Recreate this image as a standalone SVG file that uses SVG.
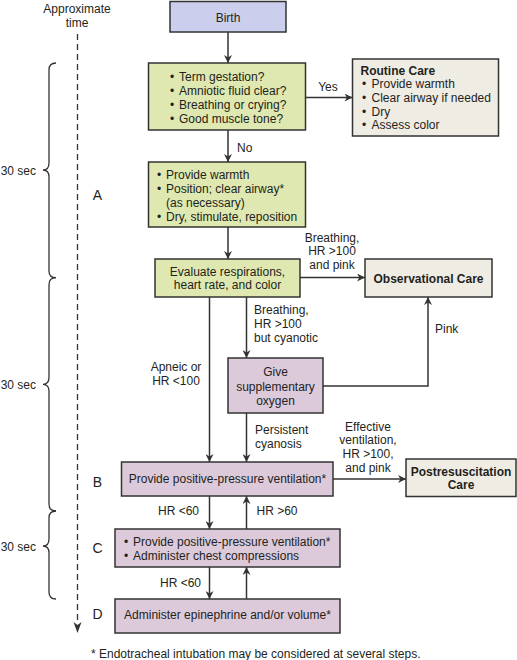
<svg xmlns="http://www.w3.org/2000/svg" width="517" height="660" viewBox="0 0 517 660">
<defs>
<style>
text{font-family:"Liberation Sans",Arial,sans-serif;font-size:12px;fill:#231f20}
.c{text-anchor:middle}
.e{text-anchor:end}
.b{font-weight:bold}
.L{font-size:14px;text-anchor:middle}
.box{stroke:#333;stroke-width:1.5}
.blue{fill:#cbcfed}
.green{fill:#dfe8b0}
.lilac{fill:#dccadb}
.beige{fill:#efece4}
.ln{fill:none;stroke:#333;stroke-width:1.5}
.ar{marker-end:url(#ah)}
.brace{fill:none;stroke:#333;stroke-width:1.3}
</style>
<marker id="ah" viewBox="0 0 10 10" refX="10" refY="5" markerWidth="9" markerHeight="8" markerUnits="userSpaceOnUse" orient="auto">
<path d="M0,0 L10,5 L0,10 L3,5 z" fill="#333"/>
</marker>
</defs>

<g id="timeline">
<text class="c" x="77" y="12.5">Approximate</text>
<text class="c" x="77" y="26.5">time</text>
<line x1="77.5" y1="34" x2="77.5" y2="624" stroke="#333" stroke-width="1.3" stroke-dasharray="6,4"/>
<path d="M73.5,622 L77.5,633 L81.5,622 L77.5,625 z" fill="#333"/>
<path class="brace" d="M56,63 Q49,63 49,70 L49,163 Q49,170 43,170 Q49,170 49,177 L49,271 Q49,277.7 56,277.7"/>
<path class="brace" d="M56,277.7 Q49,277.7 49,284.7 L49,377.3 Q49,384.3 43,384.3 Q49,384.3 49,391.3 L49,504 Q49,511 56,511"/>
<path class="brace" d="M56,511 Q49,511 49,518 L49,539 Q49,546 43,546 Q49,546 49,553 L49,592 Q49,599 56,599"/>
<text class="e" x="36" y="174.5">30 sec</text>
<text class="e" x="36" y="388.5">30 sec</text>
<text class="e" x="36" y="550.5">30 sec</text>
<text class="L" x="97.5" y="200">A</text>
<text class="L" x="97.5" y="487">B</text>
<text class="L" x="97.5" y="553">C</text>
<text class="L" x="97.5" y="619">D</text>
</g>

<g id="connectors">
<line class="ln ar" x1="228" y1="32" x2="228" y2="63"/>
<line class="ln ar" x1="305.5" y1="97.5" x2="352.5" y2="97.5"/>
<text class="c" x="328" y="91">Yes</text>
<line class="ln ar" x1="228" y1="130" x2="228" y2="162"/>
<text x="237" y="151.5">No</text>
<line class="ln ar" x1="228" y1="227" x2="228" y2="259"/>
<line class="ln ar" x1="300" y1="277.5" x2="365" y2="277.5"/>
<text class="c" x="332" y="241.5">Breathing,</text>
<text class="c" x="332" y="255">HR &gt;100</text>
<text class="c" x="332" y="268.5">and pink</text>
<line class="ln ar" x1="209.5" y1="297" x2="209.5" y2="462"/>
<text class="c" x="176" y="371">Apneic or</text>
<text class="c" x="176" y="384.5">HR &lt;100</text>
<line class="ln ar" x1="246.5" y1="297" x2="246.5" y2="358"/>
<text x="254" y="313.5">Breathing,</text>
<text x="254" y="327.5">HR &gt;100</text>
<text x="254" y="341.5">but cyanotic</text>
<polyline class="ln ar" points="323,386 428,386 428,297"/>
<text x="435" y="332.5">Pink</text>
<line class="ln ar" x1="246.5" y1="413" x2="246.5" y2="462"/>
<text x="255" y="433.5">Persistent</text>
<text x="255" y="447.5">cyanosis</text>
<line class="ln ar" x1="333" y1="479" x2="406" y2="479"/>
<text class="c" x="368" y="430.5">Effective</text>
<text class="c" x="368" y="444.3">ventilation,</text>
<text class="c" x="368" y="458">HR &gt;100,</text>
<text class="c" x="368" y="471.8">and pink</text>
<line class="ln ar" x1="209.5" y1="496" x2="209.5" y2="529"/>
<text class="e" x="199" y="514.5">HR &lt;60</text>
<line class="ln ar" x1="246.5" y1="529" x2="246.5" y2="496"/>
<text x="256.5" y="514.5">HR &gt;60</text>
<line class="ln ar" x1="209.5" y1="567" x2="209.5" y2="599"/>
<text class="e" x="201" y="586.5">HR &lt;60</text>
<line class="ln ar" x1="246.5" y1="599" x2="246.5" y2="567"/>
</g>

<g id="birth">
<rect class="box blue" x="170" y="1.5" width="116" height="30.5"/>
<text class="c" x="228" y="21.5">Birth</text>
</g>

<g id="assess">
<rect class="box green" x="148.5" y="63" width="157" height="67"/>
<text x="170" y="80.5">•</text><text x="179" y="80.5">Term gestation?</text>
<text x="170" y="94.5">•</text><text x="179" y="94.5">Amniotic fluid clear?</text>
<text x="170" y="108.5">•</text><text x="179" y="108.5">Breathing or crying?</text>
<text x="170" y="122.5">•</text><text x="179" y="122.5">Good muscle tone?</text>
</g>

<g id="routine">
<rect class="box beige" x="352.5" y="59" width="146" height="77"/>
<text class="b" x="360.5" y="74.5">Routine Care</text>
<text x="362" y="88">•</text><text x="371.5" y="88">Provide warmth</text>
<text x="362" y="101.5">•</text><text x="371.5" y="101.5">Clear airway if needed</text>
<text x="362" y="115.5">•</text><text x="371.5" y="115.5">Dry</text>
<text x="362" y="129">•</text><text x="371.5" y="129">Assess color</text>
</g>

<g id="initial">
<rect class="box green" x="148.5" y="162" width="157" height="65"/>
<text x="157" y="178.5">•</text><text x="166" y="178.5">Provide warmth</text>
<text x="157" y="192.5">•</text><text x="166" y="192.5">Position; clear airway*</text>
<text x="166" y="206.5">(as necessary)</text>
<text x="157" y="220.5">•</text><text x="166" y="220.5">Dry, stimulate, reposition</text>
</g>

<g id="evaluate">
<rect class="box green" x="155" y="259" width="145" height="38"/>
<text class="c" x="227.5" y="275.5">Evaluate respirations,</text>
<text class="c" x="227.5" y="288.5">heart rate, and color</text>
</g>

<g id="observational">
<rect class="box beige" x="365" y="259" width="127" height="38"/>
<text class="c b" x="428.5" y="282.5">Observational Care</text>
</g>

<g id="oxygen">
<rect class="box lilac" x="228" y="358" width="95" height="55"/>
<text class="c" x="275.5" y="376">Give</text>
<text class="c" x="275.5" y="390.5">supplementary</text>
<text class="c" x="275.5" y="404.5">oxygen</text>
</g>

<g id="ppv">
<rect class="box lilac" x="121.5" y="462" width="211.5" height="34"/>
<text class="c" x="227.5" y="482.5">Provide positive-pressure ventilation*</text>
</g>

<g id="postresus">
<rect class="box beige" x="406" y="459" width="110" height="37.5"/>
<text class="c b" x="461" y="476">Postresuscitation</text>
<text class="c b" x="461" y="488.5">Care</text>
</g>

<g id="compressions">
<rect class="box lilac" x="115" y="529" width="225" height="38"/>
<text x="124" y="546">•</text><text x="133" y="546">Provide positive-pressure ventilation*</text>
<text x="124" y="559.5">•</text><text x="133" y="559.5">Administer chest compressions</text>
</g>

<g id="epinephrine">
<rect class="box lilac" x="115" y="599" width="225" height="34"/>
<text class="c" x="227.5" y="618.5">Administer epinephrine and/or volume*</text>
</g>

<text x="91" y="657.5">* Endotracheal intubation may be considered at several steps.</text>
</svg>
